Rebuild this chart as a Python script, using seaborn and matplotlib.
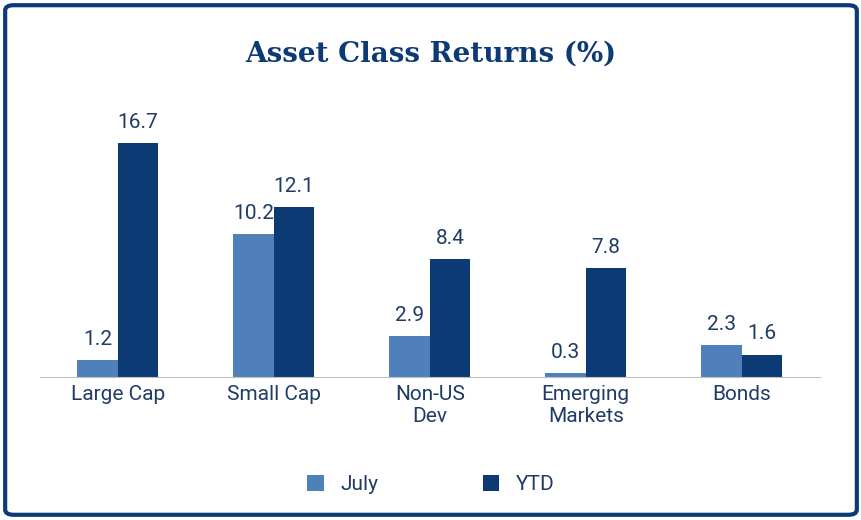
import pandas as pd
import matplotlib.pyplot as plt
import seaborn as sns
from matplotlib.patches import FancyBboxPatch

# --- Data ---
categories = ['Large Cap', 'Small Cap', 'Non-US\nDev', 'Emerging\nMarkets', 'Bonds']
july = [1.2, 10.2, 2.9, 0.3, 2.3]
ytd = [16.7, 12.1, 8.4, 7.8, 1.6]

NAVY = '#0b3a75'
LIGHT = '#4f80b9'

df = pd.DataFrame({
    'category': categories * 2,
    'period': ['July'] * len(july) + ['YTD'] * len(ytd),
    'value': july + ytd,
})

plt.rcParams['font.family'] = 'Roboto'
fig = plt.figure(figsize=(8.62, 5.2), dpi=100)
ax = fig.add_axes([0.046, 0.275, 0.905, 0.485])

sns.barplot(data=df, x='category', y='value', hue='period', palette=[LIGHT, NAVY],
            width=0.52, saturation=1, ax=ax, legend=True)

for cont in ax.containers:
    ax.bar_label(cont, fmt='%.1f', padding=8, fontsize=15, color='#1f3b66')

ax.set_xlim(-0.5, 4.5)
ax.set_ylim(0, 18)
ax.set_xlabel('')
ax.set_ylabel('')
ax.set_yticks([])
for s in ['top', 'right', 'left']:
    ax.spines[s].set_visible(False)
ax.spines['bottom'].set_color('#bfbfbf')
ax.tick_params(axis='x', length=0, labelsize=15, labelcolor='#1f3b66', pad=6)

handles, labels = ax.get_legend_handles_labels()
ax.legend_.remove()
fig.legend(handles, labels, loc='center', bbox_to_anchor=(0.5, 0.068), ncol=2,
           frameon=False, fontsize=15, handlelength=0.8, handleheight=0.8,
           columnspacing=5, labelcolor='#1f3b66')

fig.text(0.5, 0.895, 'Asset Class Returns (%)', ha='center', va='center',
         fontsize=20, fontweight='bold', family='DejaVu Serif', color=NAVY)

border = FancyBboxPatch((0.006, 0.01), 0.988, 0.98, boxstyle='round,pad=0,rounding_size=0.01',
                        transform=fig.transFigure, fill=False, edgecolor=NAVY, linewidth=3)
fig.patches.append(border)

fig.savefig('out.png', dpi=100)
